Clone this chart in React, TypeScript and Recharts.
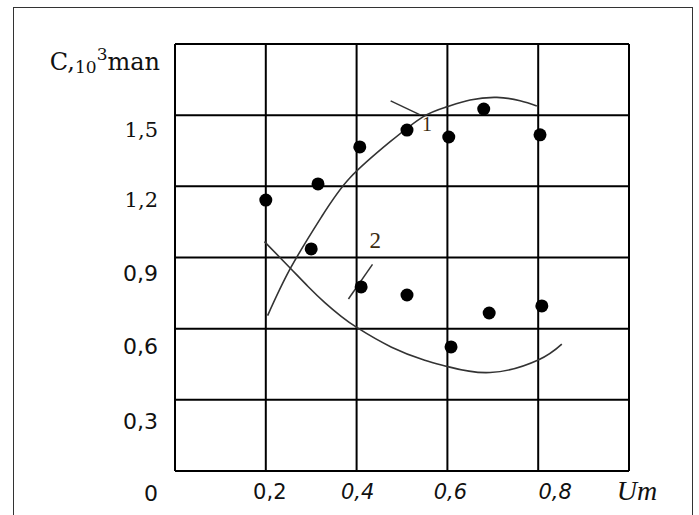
import {
  ComposedChart,
  Line,
  Scatter,
  XAxis,
  YAxis,
  CartesianGrid,
  ReferenceLine,
  ReferenceDot,
} from 'recharts';

// x ticks (U) and y ticks (C, 10^3)
const xTicks = [0, 0.2, 0.4, 0.6, 0.8, 1.0];
const yTicks = [0, 0.3, 0.6, 0.9, 1.2, 1.5, 1.8];

// measured points, group 1 (upper) and group 2 (lower)
const pointsOneX = [0.2, 0.315, 0.407, 0.511, 0.603, 0.68, 0.804];
const pointsOneY = [1.142, 1.21, 1.366, 1.437, 1.408, 1.526, 1.417];
const pointsTwoX = [0.3, 0.41, 0.511, 0.608, 0.692, 0.808];
const pointsTwoY = [0.936, 0.776, 0.742, 0.523, 0.666, 0.696];

// fitted curves
const curveOneX = [0.204, 0.255, 0.323, 0.385, 0.474, 0.547, 0.598, 0.65, 0.709, 0.76, 0.797];
const curveOneY = [0.655, 0.857, 1.072, 1.235, 1.388, 1.494, 1.535, 1.564, 1.575, 1.561, 1.539];
const curveTwoX = [0.197, 0.253, 0.293, 0.33, 0.366, 0.403, 0.477, 0.55, 0.601, 0.694, 0.8, 0.852];
const curveTwoY = [0.967, 0.857, 0.778, 0.71, 0.652, 0.602, 0.522, 0.467, 0.44, 0.415, 0.468, 0.535];

// curve labels and their leader lines
const labelNames = ['1', '2'];
const labelAt = [
  { x: 0.555, y: 1.463 },
  { x: 0.441, y: 0.974 },
];
const leaders = [
  [{ x: 0.475, y: 1.56 }, { x: 0.54, y: 1.501 }],
  [{ x: 0.382, y: 0.725 }, { x: 0.435, y: 0.871 }],
];

const zip = (xs: number[], ys: number[]) => xs.map((x, i) => ({ x, y: ys[i] }));

const pointsOne = zip(pointsOneX, pointsOneY);
const pointsTwo = zip(pointsTwoX, pointsTwoY);
const curveOne = zip(curveOneX, curveOneY);
const curveTwo = zip(curveTwoX, curveTwoY);

const SERIF = '"DejaVu Serif", "Liberation Serif", serif';
const TIMES = '"Liberation Serif", "Times New Roman", serif';
const SANS = '"DejaVu Sans", Verdana, sans-serif';

const yShift: Record<string, number> = { '1.5': 14, '1.2': 13, '0.9': 15, '0.6': 17, '0.3': 21, '0': 22 };

function YTick(props: any) {
  const { x, y, payload } = props;
  const v = payload.value as number;
  if (v === 1.8) {
    return (
      <text x={x + 3} y={y + 26} textAnchor="end" fontFamily={SERIF} fontSize={24} fill="#111">
        <tspan>C,</tspan>
        <tspan fontSize={17} dy={3}>10</tspan>
        <tspan fontSize={17} dy={-13}>3</tspan>
        <tspan dy={10}>man</tspan>
      </text>
    );
  }
  const serif = v >= 1.2;
  return (
    <text
      x={x + 1}
      y={y + (yShift[String(v)] ?? 16) + 8}
      textAnchor="end"
      fontFamily={serif ? SERIF : SANS}
      fontSize={serif ? 21 : 22}
      fill="#111"
    >
      {String(v).replace('.', ',')}
    </text>
  );
}

const xShift: Record<string, number> = { '0.2': 4, '0.4': 1, '0.6': 3, '0.8': 17, '1': 8 };

function XTick(props: any) {
  const { x, y, payload } = props;
  const v = payload.value as number;
  if (v === 0) return null;
  if (v === 1) {
    return (
      <text x={x + xShift['1']} y={y + 27} textAnchor="middle" fontFamily={TIMES} fontStyle="italic" fontSize={28} fill="#111">
        Um
      </text>
    );
  }
  return (
    <text
      x={x + (xShift[String(v)] ?? 0)}
      y={y + 26}
      textAnchor="middle"
      fontFamily={SANS}
      fontStyle={v === 0.2 ? 'normal' : 'italic'}
      fontSize={21}
      fill="#111"
    >
      {String(v).replace('.', ',')}
    </text>
  );
}

const dot = (p: any) => <circle cx={p.cx} cy={p.cy} r={6.5} fill="#000" />;

export default function App() {
  return (
    <div style={{ position: 'relative', width: 699, height: 515, overflow: 'hidden', background: '#fff' }}>
      <style>{'body{margin:0}'}</style>
      <div
        style={{
          position: 'absolute',
          left: 13,
          top: 7,
          width: 680,
          height: 530,
          border: '1.5px solid #333',
          boxSizing: 'border-box',
        }}
      />
      <div style={{ position: 'absolute', left: 0, top: 0 }}>
        <ComposedChart width={699} height={515} margin={{ top: 44, right: 70, bottom: 4, left: 15 }}>
          <CartesianGrid stroke="#000" strokeWidth={2} strokeOpacity={1} />
          <XAxis
            type="number"
            dataKey="x"
            domain={[0, 1]}
            ticks={xTicks}
            height={40}
            tick={<XTick />}
            tickLine={false}
            tickSize={0}
            axisLine={{ stroke: '#000', strokeWidth: 2 }}
            interval={0}
          />
          <YAxis
            type="number"
            dataKey="y"
            domain={[0, 1.8]}
            ticks={yTicks}
            width={160}
            tick={<YTick />}
            tickLine={false}
            tickSize={0}
            tickMargin={18}
            axisLine={{ stroke: '#000', strokeWidth: 2 }}
            interval={0}
          />
          <Line
            data={curveOne}
            dataKey="y"
            type="natural"
            stroke="#333"
            strokeWidth={1.6}
            dot={false}
            activeDot={false}
            isAnimationActive={false}
          />
          <Line
            data={curveTwo}
            dataKey="y"
            type="natural"
            stroke="#333"
            strokeWidth={1.6}
            dot={false}
            activeDot={false}
            isAnimationActive={false}
          />
          <Scatter data={pointsOne} dataKey="y" shape={dot} isAnimationActive={false} />
          <Scatter data={pointsTwo} dataKey="y" shape={dot} isAnimationActive={false} />
          {leaders.map((seg, i) => (
            <ReferenceLine key={`l${i}`} segment={seg} stroke="#333" strokeWidth={1.5} />
          ))}
          {labelNames.map((name, i) => (
            <ReferenceDot
              key={`n${i}`}
              x={labelAt[i].x}
              y={labelAt[i].y}
              r={0}
              fill="none"
              stroke="none"
              label={{ value: name, position: 'center', fontSize: i === 0 ? 20 : 23, fill: '#3a2a10', fontFamily: TIMES }}
            />
          ))}
        </ComposedChart>
      </div>
    </div>
  );
}
